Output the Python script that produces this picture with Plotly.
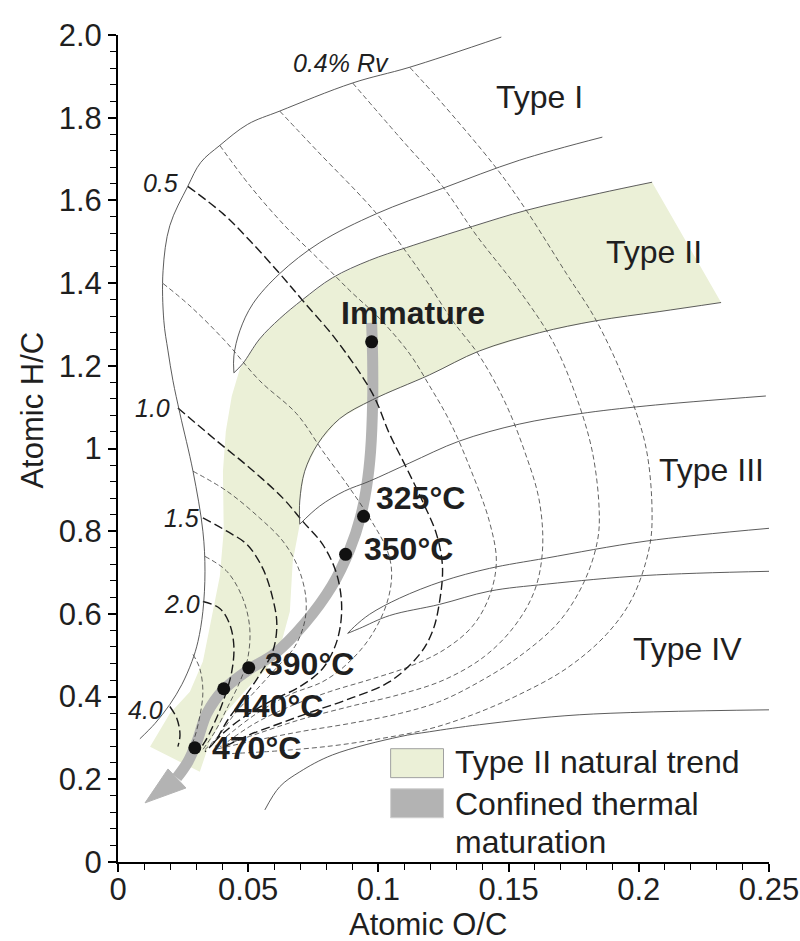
import plotly.graph_objects as go

# ---------------- evolution paths (solid lines), atomic O/C vs H/C ----------------
type1_oc = [0.1472, 0.1120, 0.0901, 0.0621, 0.0498, 0.0391, 0.0318, 0.0268, 0.0199, 0.0173,
            0.0176, 0.0192, 0.0211, 0.0238, 0.0288, 0.0326, 0.0334, 0.0326, 0.0307, 0.0284,
            0.0245, 0.0199, 0.0142, 0.0084]
type1_hc = [1.995, 1.922, 1.884, 1.816, 1.784, 1.733, 1.692, 1.634, 1.539, 1.430,
            1.309, 1.236, 1.164, 1.084, 0.945, 0.800, 0.703, 0.606, 0.533, 0.485,
            0.429, 0.381, 0.335, 0.298]

type2_outer_oc = [0.1860, 0.1541, 0.1246, 0.0993, 0.0775, 0.0621, 0.0518, 0.0468, 0.0445, 0.0445]
type2_outer_hc = [1.753, 1.697, 1.629, 1.568, 1.498, 1.423, 1.350, 1.285, 1.224, 1.183]
type2_inner_oc = [0.0445, 0.0479, 0.0544, 0.0621, 0.0709, 0.0824, 0.0966, 0.1108, 0.1361,
                  0.1568, 0.1848, 0.2051]
type2_inner_hc = [1.183, 1.205, 1.265, 1.314, 1.360, 1.413, 1.455, 1.486, 1.537,
                  1.576, 1.617, 1.644]

type3a_upper_oc = [0.2316, 0.2078, 0.1837, 0.1618, 0.1388, 0.1196, 0.0978, 0.0851, 0.0767,
                   0.0717, 0.0698, 0.0698]
type3a_upper_hc = [1.353, 1.331, 1.309, 1.280, 1.236, 1.178, 1.118, 1.072, 1.011,
                   0.945, 0.873, 0.817]
type3a_lower_oc = [0.0698, 0.0775, 0.0870, 0.0966, 0.1120, 0.1311, 0.1541, 0.1771, 0.2028, 0.2488]
type3a_lower_hc = [0.817, 0.861, 0.897, 0.921, 0.965, 1.018, 1.059, 1.084, 1.103, 1.127]

type3b_upper_oc = [0.2500, 0.2028, 0.1645, 0.1426, 0.1246, 0.1081, 0.0966, 0.0909, 0.0882]
type3b_upper_hc = [0.807, 0.776, 0.735, 0.710, 0.679, 0.638, 0.599, 0.570, 0.553]
type3b_lower_oc = [0.0882, 0.0928, 0.1043, 0.1235, 0.1426, 0.1645, 0.2028, 0.2500]
type3b_lower_hc = [0.553, 0.565, 0.596, 0.623, 0.655, 0.672, 0.693, 0.703]

type4_oc = [0.2500, 0.1771, 0.1388, 0.1196, 0.1081, 0.0824, 0.0698, 0.0621, 0.0564]
type4_hc = [0.368, 0.356, 0.332, 0.315, 0.303, 0.259, 0.218, 0.182, 0.126]

# ---------------- iso-reflectance lines ----------------
iso_a_oc = [0.1120, 0.1235, 0.1453, 0.1568, 0.1722, 0.1837, 0.1952, 0.2028, 0.2051, 0.2040,
            0.1975, 0.1875, 0.1722, 0.1541, 0.1361, 0.1196, 0.1005, 0.0824, 0.0621, 0.0429]
iso_a_hc = [1.922, 1.842, 1.678, 1.576, 1.423, 1.309, 1.152, 1.001, 0.841, 0.759,
            0.638, 0.550, 0.468, 0.405, 0.356, 0.322, 0.298, 0.281, 0.269, 0.262]

iso_b_oc = [0.0901, 0.1081, 0.1246, 0.1377, 0.1541, 0.1668, 0.1752, 0.1821, 0.1848, 0.1841,
            0.1791, 0.1695, 0.1541, 0.1388, 0.1235, 0.1081, 0.0890, 0.0698, 0.0506, 0.0372]
iso_b_hc = [1.884, 1.753, 1.634, 1.515, 1.382, 1.261, 1.139, 0.994, 0.848, 0.776,
            0.679, 0.582, 0.497, 0.436, 0.388, 0.359, 0.335, 0.315, 0.291, 0.272]

iso_c_oc = [0.0621, 0.0763, 0.0993, 0.1158, 0.1285, 0.1388, 0.1484, 0.1561, 0.1618, 0.1630,
            0.1599, 0.1522, 0.1407, 0.1254, 0.1081, 0.0890, 0.0698, 0.0525, 0.0391]
iso_c_hc = [1.816, 1.721, 1.568, 1.430, 1.309, 1.224, 1.115, 0.994, 0.873, 0.752,
            0.655, 0.570, 0.497, 0.441, 0.405, 0.376, 0.344, 0.308, 0.279]

iso_d_oc = [0.0391, 0.0506, 0.0640, 0.0775, 0.0890, 0.1005, 0.1120, 0.1196, 0.1273, 0.1357,
            0.1426, 0.1453, 0.1426, 0.1361, 0.1254, 0.1120, 0.0966, 0.0813, 0.0660, 0.0525, 0.0410]
iso_d_hc = [1.733, 1.636, 1.539, 1.455, 1.382, 1.314, 1.229, 1.152, 1.067, 0.945,
            0.824, 0.727, 0.642, 0.570, 0.514, 0.473, 0.441, 0.412, 0.376, 0.335, 0.286]

rv05_oc = [0.0268, 0.0403, 0.0506, 0.0621, 0.0709, 0.0840, 0.0978, 0.1043, 0.1108, 0.1169,
           0.1223, 0.1246, 0.1235, 0.1208, 0.1158, 0.1043, 0.0890, 0.0748, 0.0621, 0.0506, 0.0410]
rv05_hc = [1.634, 1.568, 1.503, 1.423, 1.358, 1.261, 1.132, 1.035, 0.953, 0.873,
           0.793, 0.715, 0.630, 0.558, 0.502, 0.436, 0.395, 0.364, 0.335, 0.308, 0.279]

iso_e_oc = [0.0173, 0.0276, 0.0410, 0.0544, 0.0686, 0.0786, 0.0890, 0.0974, 0.1035, 0.1051,
            0.1031, 0.0966, 0.0878, 0.0786, 0.0660, 0.0544, 0.0449, 0.0372]
iso_e_hc = [1.399, 1.345, 1.261, 1.164, 1.084, 0.994, 0.904, 0.824, 0.752, 0.696,
            0.623, 0.541, 0.478, 0.436, 0.405, 0.364, 0.320, 0.279]

rv10_oc = [0.0230, 0.0380, 0.0506, 0.0633, 0.0709, 0.0786, 0.0840, 0.0859, 0.0840, 0.0786,
           0.0698, 0.0583, 0.0487, 0.0410, 0.0353]
rv10_hc = [1.098, 1.018, 0.953, 0.880, 0.824, 0.768, 0.696, 0.613, 0.533, 0.468,
           0.424, 0.388, 0.352, 0.315, 0.279]

iso_f_oc = [0.0288, 0.0418, 0.0544, 0.0633, 0.0690, 0.0721, 0.0717, 0.0679, 0.0602, 0.0525,
            0.0449, 0.0383, 0.0334]
iso_f_hc = [0.945, 0.897, 0.832, 0.776, 0.715, 0.642, 0.582, 0.521, 0.465, 0.412,
            0.359, 0.303, 0.272]

rv15_oc = [0.0326, 0.0418, 0.0495, 0.0556, 0.0594, 0.0610, 0.0594, 0.0544, 0.0487, 0.0422,
           0.0372, 0.0334]
rv15_hc = [0.832, 0.800, 0.768, 0.710, 0.638, 0.575, 0.509, 0.453, 0.400, 0.344,
           0.291, 0.267]

iso_g_oc = [0.0334, 0.0418, 0.0479, 0.0506, 0.0498, 0.0468, 0.0422, 0.0372, 0.0326]
iso_g_hc = [0.739, 0.703, 0.638, 0.565, 0.492, 0.436, 0.376, 0.315, 0.272]

rv20_oc = [0.0326, 0.0391, 0.0429, 0.0445, 0.0437, 0.0410, 0.0372, 0.0334, 0.0307]
rv20_hc = [0.630, 0.613, 0.575, 0.521, 0.461, 0.400, 0.339, 0.291, 0.267]

iso_h_oc = [0.0288, 0.0314, 0.0326, 0.0314, 0.0295, 0.0276]
iso_h_hc = [0.502, 0.468, 0.412, 0.352, 0.303, 0.272]

rv40_oc = [0.0199, 0.0226, 0.0238, 0.0230]
rv40_hc = [0.376, 0.347, 0.308, 0.279]

# ---------------- Type II natural trend envelope ----------------
trend_oc = [0.0123, 0.0199, 0.0276, 0.0326, 0.0353, 0.0391, 0.0406, 0.0403, 0.0414, 0.0437,
            0.0468, 0.0544, 0.0621, 0.0709, 0.0824, 0.0966, 0.1108, 0.1361, 0.1568, 0.1848,
            0.2051, 0.2316, 0.2078, 0.1837, 0.1618, 0.1388, 0.1196, 0.0978, 0.0851, 0.0767,
            0.0717, 0.0698, 0.0698, 0.0671, 0.0660, 0.0621, 0.0571, 0.0495, 0.0418, 0.0353,
            0.0314, 0.0123]
trend_hc = [0.279, 0.359, 0.412, 0.485, 0.570, 0.691, 0.800, 0.945, 1.042, 1.127,
            1.193, 1.265, 1.314, 1.360, 1.413, 1.455, 1.486, 1.537, 1.576, 1.617,
            1.644, 1.353, 1.331, 1.309, 1.280, 1.236, 1.178, 1.118, 1.072, 1.011,
            0.945, 0.873, 0.817, 0.727, 0.606, 0.516, 0.468, 0.419, 0.364, 0.291,
            0.218, 0.279]

# ---------------- confined thermal maturation path ----------------
path_oc = [0.0974, 0.0978, 0.0978, 0.0970, 0.0955, 0.0932, 0.0890, 0.0821, 0.0717, 0.0602,
           0.0502, 0.0406, 0.0341, 0.0303, 0.0268, 0.0226]
path_hc = [1.304, 1.212, 1.115, 0.994, 0.909, 0.836, 0.756, 0.667, 0.577, 0.504,
           0.465, 0.417, 0.359, 0.291, 0.242, 0.204]
head_oc = [0.0192, 0.0261, 0.0104, 0.0192]
head_hc = [0.225, 0.179, 0.143, 0.225]

sample_labels = ["Immature", "325°C", "350°C", "390°C", "440°C", "470°C"]
sample_oc = [0.0974, 0.0943, 0.0874, 0.0502, 0.0406, 0.0295]
sample_hc = [1.258, 0.836, 0.744, 0.470, 0.419, 0.276]

x_tickvals = [0, 0.05, 0.1, 0.15, 0.2, 0.25]
x_ticktext = ["0", "0.05", "0.1", "0.15", "0.2", "0.25"]
y_tickvals = [0, 0.2, 0.4, 0.6, 0.8, 1.0, 1.2, 1.4, 1.6, 1.8, 2.0]
y_ticktext = ["0", "0.2", "0.4", "0.6", "0.8", "1", "1.2", "1.4", "1.6", "1.8", "2.0"]

FONT = "Arial, 'Liberation Sans', sans-serif"
INK = "#1f1f1f"
GREEN = "#ebf0d7"
GREY = "#b3b3b3"

fig = go.Figure()

# natural trend band
fig.add_trace(go.Scatter(x=trend_oc, y=trend_hc, mode="lines", fill="toself",
                         fillcolor=GREEN, line=dict(width=0), hoverinfo="skip"))

# confined maturation arrow (shaft + head)
fig.add_trace(go.Scatter(x=path_oc, y=path_hc, mode="lines",
                         line=dict(color=GREY, width=11, shape="spline"), hoverinfo="skip"))
fig.add_trace(go.Scatter(x=head_oc, y=head_hc, mode="lines", fill="toself",
                         fillcolor=GREY, line=dict(color=GREY, width=1), hoverinfo="skip"))

# thin iso-reflectance lines
for xs, ys in [(iso_a_oc, iso_a_hc), (iso_b_oc, iso_b_hc), (iso_c_oc, iso_c_hc),
               (iso_d_oc, iso_d_hc), (iso_e_oc, iso_e_hc), (iso_f_oc, iso_f_hc),
               (iso_g_oc, iso_g_hc), (iso_h_oc, iso_h_hc)]:
    fig.add_trace(go.Scatter(x=xs, y=ys, mode="lines", hoverinfo="skip",
                             line=dict(color="#3a3a3a", width=0.8, dash="5px,3px", shape="spline")))

# labelled iso-reflectance lines
for xs, ys in [(rv05_oc, rv05_hc), (rv10_oc, rv10_hc), (rv15_oc, rv15_hc),
               (rv20_oc, rv20_hc), (rv40_oc, rv40_hc)]:
    fig.add_trace(go.Scatter(x=xs, y=ys, mode="lines", hoverinfo="skip",
                             line=dict(color="#1a1a1a", width=1.4, dash="9px,4px", shape="spline")))

# kerogen evolution paths
for xs, ys in [(type1_oc, type1_hc), (type2_outer_oc, type2_outer_hc),
               (type2_inner_oc, type2_inner_hc), (type3a_upper_oc, type3a_upper_hc),
               (type3a_lower_oc, type3a_lower_hc), (type3b_upper_oc, type3b_upper_hc),
               (type3b_lower_oc, type3b_lower_hc), (type4_oc, type4_hc)]:
    fig.add_trace(go.Scatter(x=xs, y=ys, mode="lines", hoverinfo="skip",
                             line=dict(color="#4a4a4a", width=0.9, shape="spline")))

# experimental samples
fig.add_trace(go.Scatter(x=sample_oc, y=sample_hc, mode="markers",
                         marker=dict(color="#111111", size=13), hoverinfo="skip"))

ann = []
# sample labels
ann.append(dict(x=0.1131, y=1.328, text="<b>Immature</b>", xanchor="center"))
for lbl, lx, ly in [("325°C", 0.0985, 0.880), ("350°C", 0.0936, 0.756), ("390°C", 0.0556, 0.480),
                    ("440°C", 0.0437, 0.378), ("470°C", 0.0353, 0.276)]:
    ann.append(dict(x=lx, y=ly, text="<b>%s</b>" % lbl, xanchor="left"))
for a in ann:
    a.update(xref="x", yref="y", yanchor="middle", showarrow=False,
             font=dict(family=FONT, size=32, color=INK))

# kerogen type labels
for lbl, lx, ly in [("Type I", 0.1618, 1.850), ("Type II", 0.2059, 1.476),
                    ("Type III", 0.2278, 0.948), ("Type IV", 0.2186, 0.514)]:
    ann.append(dict(x=lx, y=ly, text=lbl, xref="x", yref="y", xanchor="center",
                    yanchor="middle", showarrow=False, font=dict(family=FONT, size=32, color=INK)))

# iso-reflectance labels
for lbl, lx, ly in [("0.4% Rv", 0.0855, 1.932), ("0.5", 0.0165, 1.641), ("1.0", 0.0134, 1.098),
                    ("1.5", 0.0245, 0.832), ("2.0", 0.0245, 0.625), ("4.0", 0.0104, 0.368)]:
    ann.append(dict(x=lx, y=ly, text="<i>%s</i>" % lbl, xref="x", yref="y", xanchor="center",
                    yanchor="middle", showarrow=False, font=dict(family=FONT, size=25, color=INK)))

# legend entries
for lbl, ly in [("Type II natural trend", 0.242), ("Confined thermal", 0.141), ("maturation", 0.048)]:
    ann.append(dict(x=0.1285, y=ly, text=lbl, xref="x", yref="y", xanchor="left",
                    yanchor="middle", showarrow=False, font=dict(family=FONT, size=32, color=INK)))

# axis titles
ann.append(dict(x=0.476, y=-0.076, xref="paper", yref="paper", text="Atomic O/C",
                xanchor="center", yanchor="middle", showarrow=False,
                font=dict(family=FONT, size=31, color=INK)))
ann.append(dict(x=-0.1306, y=0.547, xref="paper", yref="paper", text="Atomic H/C",
                textangle=-90, xanchor="center", yanchor="middle", showarrow=False,
                font=dict(family=FONT, size=31, color=INK)))

shapes = [
    dict(type="rect", xref="x", yref="y", x0=0.1047, x1=0.1250, y0=0.204, y1=0.274,
         fillcolor=GREEN, line=dict(color="#a0a0a0", width=1)),
    dict(type="rect", xref="x", yref="y", x0=0.1047, x1=0.1250, y0=0.107, y1=0.177,
         fillcolor=GREY, line=dict(color="#cfcfcf", width=1)),
]

axis_common = dict(showline=True, linecolor="#000000", linewidth=2, ticks="outside",
                   ticklen=8, tickwidth=1.5, tickcolor="#000000", showgrid=False,
                   zeroline=False, tickmode="array", automargin=False,
                   tickfont=dict(family=FONT, size=31, color=INK))

fig.update_layout(
    width=800, height=941,
    margin=dict(l=118, r=31, t=35, b=79),
    plot_bgcolor="white", paper_bgcolor="white",
    showlegend=False,
    annotations=ann, shapes=shapes,
    xaxis=dict(range=[0, 0.25], tickvals=x_tickvals, ticktext=x_ticktext,
               ticklabelstandoff=-9,
               minor=dict(tickmode="linear", tick0=0, dtick=0.01, ticks="outside",
                          ticklen=6, tickwidth=1.2, tickcolor="#000000", showgrid=False),
               **axis_common),
    yaxis=dict(range=[0, 2.0], tickvals=y_tickvals, ticktext=y_ticktext,
               minor=dict(tickmode="linear", tick0=0, dtick=0.04, ticks="outside",
                          ticklen=6, tickwidth=1.2, tickcolor="#000000", showgrid=False),
               **axis_common),
)

fig.write_html("out.html")
